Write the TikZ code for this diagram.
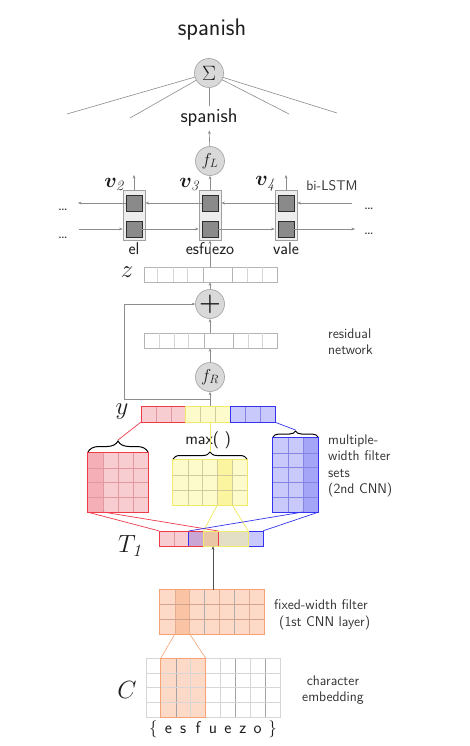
\documentclass[tikz,border=0pt]{standalone}
\usepackage{amsmath,bm}
\usetikzlibrary{arrows.meta,decorations.pathreplacing,calc}
\definecolor{lg}{HTML}{8C8C8C}
\definecolor{cfill}{HTML}{D9D9D9}
\definecolor{cdraw}{HTML}{A0A0A0}
\definecolor{vline}{HTML}{D6D6D6}
\definecolor{vdark}{HTML}{B4B4B4}
\definecolor{boxfill}{HTML}{EDEDED}
\definecolor{boxdraw}{HTML}{A0A0A0}
\definecolor{sqfill}{HTML}{8A8A8A}
\definecolor{sqdraw}{HTML}{2E2E2E}
\definecolor{rS}{HTML}{EE3B4A}
\definecolor{rF}{HTML}{F8CDD2}
\definecolor{rD}{HTML}{F5AFB6}
\definecolor{rL}{HTML}{E2989F}
\definecolor{yS}{HTML}{F2EA6A}
\definecolor{yF}{HTML}{FDFBCB}
\definecolor{yD}{HTML}{FAF59E}
\definecolor{yL}{HTML}{CFCB9C}
\definecolor{bS}{HTML}{3434F0}
\definecolor{bF}{HTML}{C9C9FB}
\definecolor{bD}{HTML}{A5A5F8}
\definecolor{bL}{HTML}{8585E6}
\definecolor{oS}{HTML}{F6A274}
\definecolor{oF}{HTML}{FCDAC7}
\definecolor{oD}{HTML}{F9C3A4}
\definecolor{oL}{HTML}{E5AE90}
\definecolor{pu}{HTML}{C9A6D4}
\definecolor{tan}{HTML}{E9C6A6}
\definecolor{kh}{HTML}{E3DFC6}
\definecolor{txt}{HTML}{1E1E1E}
\definecolor{ltxt}{HTML}{333333}
\definecolor{darr}{HTML}{505050}
\begin{document}
\begin{tikzpicture}[x=1pt,y=-1pt,
  ln/.style={draw=lg,line width=0.6pt},
  arr/.style={ln,-{Stealth[length=3.5pt,width=2.8pt]}},
  circ/.style={circle,draw=cdraw,fill=cfill,line width=0.6pt,minimum size=29pt,inner sep=0pt,text=txt},
  lbl/.style={font=\fontsize{14}{16.3}\selectfont\sffamily,text=ltxt,inner sep=0pt},
  word/.style={font=\fontsize{17}{20}\selectfont\sffamily,text=txt},
  mlab/.style={font=\fontsize{#1}{#1}\selectfont,text=txt,inner sep=0pt},
  vecbox/.style={draw=vdark,line width=0.5pt,minimum width=133pt,minimum height=15pt,inner sep=0pt},
  gl/.style={draw=vline,line width=0.5pt},
  gd/.style={draw=vdark,line width=0.5pt},
  colbox/.style={draw=boxdraw,fill=boxfill,line width=0.7pt,minimum width=22pt,minimum height=50pt,inner sep=0pt},
  sq/.style={draw=sqdraw,fill=sqfill,line width=0.6pt,minimum size=16pt,inner sep=0pt},
  brc/.style={draw=black,line width=1pt,decorate,decoration={brace,amplitude=#1}},
]
\useasboundingbox[fill=white] (0,0) rectangle (470,746);

% ---------- top ----------
\node[word,font=\fontsize{24}{28}\selectfont\sffamily] (top) at (212,30) {spanish};
\node[circ,font=\fontsize{21}{21}\selectfont] (sig) at (209,73) {$\Sigma$};
\coordinate (e1) at (67,114);
\coordinate (e2) at (130,118);
\coordinate (e4) at (289,114);
\coordinate (e5) at (337,113);
\foreach \e in {e1,e2,e4,e5} \draw[ln] (sig) -- (\e);
\node[word,font=\fontsize{20}{24}\selectfont\sffamily] (mid) at (209,118) {spanish};
\draw[ln] (sig) -- (mid);
\node[circ,font=\fontsize{17}{17}\selectfont] (fL) at (210,161) {$f_{L}$};
\draw[arr] (fL) -- (mid);

% ---------- bi-LSTM ----------
\foreach \n/\x in {1/134,2/210,3/286} {
  \node[colbox] (c\n) at (\x,215) {};
  \node[sq] (t\n) at (\x,203) {};
  \node[sq] (b\n) at (\x,229) {};
}
\coordinate (rt) at (352,203);
\coordinate (lt) at (78,203);
\coordinate (lb) at (79,229);
\coordinate (rb) at (355,229);
\draw[arr] (rt) -- (c3.east |- t3);
\draw[arr] (t3) -- (c2.east |- t2);
\draw[arr] (t2) -- (c1.east |- t1);
\draw[arr] (t1) -- (lt);
\draw[arr] (lb) -- (c1.west |- b1);
\draw[arr] (b1) -- (c2.west |- b2);
\draw[arr] (b2) -- (c3.west |- b3);
\draw[arr] (b3) -- (rb);
\coordinate (u1) at (134,175);
\coordinate (u3) at (286,175);
\draw[arr] (c1) -- (u1);
\draw[arr] (c3) -- (u3);
\draw[arr] (c2) -- (fL);
\node[mlab=22] (v2) at (115,184) {$\boldsymbol{v}_{\mathit{2}}$};
\node[mlab=22] (v3) at (190,184) {$\boldsymbol{v}_{\mathit{3}}$};
\node[mlab=22] (v4) at (266,184) {$\boldsymbol{v}_{\mathit{4}}$};
\node[lbl] (bil) at (332,186) {bi-LSTM};
\node[word,anchor=base,inner sep=0pt,text=ltxt] (d1) at (63,210) {\dots};
\node[word,anchor=base,inner sep=0pt,text=ltxt] (d2) at (63,238) {\dots};
\node[word,anchor=base,inner sep=0pt,text=ltxt] (d3) at (369,209) {\dots};
\node[word,anchor=base,inner sep=0pt,text=ltxt] (d4) at (369,234) {\dots};
\node[word] (w1) at (134,249) {el};
\node[word] (w2) at (210,249) {esfuezo};
\node[word] (w3) at (286,249) {vale};

% ---------- z ----------
\node[vecbox] (zv) at (210.5,274.5) {};
\foreach \x in {157,173,187,247,262} \draw[gl] (\x,267) -- (\x,282);
\foreach \x in {203,232} \draw[gd] (\x,267) -- (\x,282);
\node[mlab=24] (zl) at (127,272) {$z$};
\draw[arr] (zv.north -| c2) -- (c2);

% ---------- residual ----------
\node[circ,font=\fontsize{24}{24}\selectfont] (pl) at (210,304) {$\boldsymbol{+}$};
\draw[arr] (pl) -- (zv.south -| pl);
\node[vecbox] (rv) at (210.5,340.5) {};
\foreach \x in {159,174,188,248,262} \draw[gl] (\x,333) -- (\x,348);
\foreach \x in {204,233} \draw[gd] (\x,333) -- (\x,348);
\draw[arr] (rv.north -| pl) -- (pl);
\node[circ,font=\fontsize{17}{17}\selectfont] (fR) at (210,377) {$f_{R}$};
\draw[arr] (fR) -- (rv.south -| fR);
\node[lbl,align=left,anchor=west] (rn) at (328,342) {residual\\network};

% ---------- y ----------
\node[draw=rS,fill=rF,line width=0.7pt,minimum width=44.7pt,minimum height=16pt,inner sep=0pt] (yr) at (163.35,414) {};
\node[draw=yS,fill=yF,line width=0.7pt,minimum width=44.6pt,minimum height=16pt,inner sep=0pt] (yy) at (208,414) {};
\node[draw=bS,fill=bF,line width=0.7pt,minimum width=44.7pt,minimum height=16pt,inner sep=0pt] (yb) at (252.65,414) {};
\foreach \x in {155.9,170.8} \draw[rL,line width=0.4pt] (\x,406.5) -- (\x,421.5);
\foreach \x in {200.6,215.4} \draw[yL,line width=0.4pt] (\x,406.5) -- (\x,421.5);
\foreach \x in {245.2,260.1} \draw[bL,line width=0.4pt] (\x,406.5) -- (\x,421.5);
\node[mlab=26] (yl) at (122,412) {$y$};
\coordinate (sk) at (210,399);
\coordinate (skc) at (124,304);
\draw[arr] (yy.north -| fR) -- (fR);
\draw[arr] (sk) -| (skc) -- (pl);

% ---------- filters ----------
% red
\node[fill=rF,minimum width=60pt,minimum height=59pt,inner sep=0pt] (rf) at (118,482.5) {};
\fill[rD] (88,453) rectangle (103,512);
\foreach \x in {103,118,133} \draw[rL,line width=0.5pt] (\x,453) -- (\x,512);
\foreach \y in {467.75,482.5,497.25} \draw[rL,line width=0.5pt] (88,\y) -- (148,\y);
\draw[rS,line width=0.8pt] (rf.north west) rectangle (rf.south east);
% yellow
\node[fill=yF,minimum width=74pt,minimum height=45pt,inner sep=0pt] (yf) at (210,482.5) {};
\fill[yD] (217.4,460) rectangle (232.2,505);
\foreach \x in {187.8,202.6,217.4,232.2} \draw[yL,line width=0.5pt] (\x,460) -- (\x,505);
\foreach \y in {475,490} \draw[yL,line width=0.5pt] (173,\y) -- (247,\y);
\draw[yS,line width=0.8pt] (yf.north west) rectangle (yf.south east);
% blue
\node[fill=bF,minimum width=45pt,minimum height=74pt,inner sep=0pt] (bf) at (295.5,475) {};
\fill[bD] (303,438) rectangle (318,512);
\foreach \x in {288,303} \draw[bL,line width=0.5pt] (\x,438) -- (\x,512);
\foreach \y in {452.8,467.6,482.4,497.2} \draw[bL,line width=0.5pt] (273,\y) -- (318,\y);
\draw[bS,line width=0.8pt] (bf.north west) rectangle (bf.south east);

% braces
\draw[brc=11pt] (88,452) -- (148,452);
\draw[brc=7pt] (173,459) -- (247,459);
\draw[brc=6pt] (273,437) -- (318,437);
\coordinate (rtip) at (118,440);
\coordinate (ytip) at (210,452);
\coordinate (btip) at (295.5,430);
\node[word] (mx) at (208,440) {max(\ )};
\draw[rS,line width=0.7pt] (yr.south west) -- (rtip);
\draw[yS,line width=0.9pt] (yy.south -| sk) -- (ytip);
\draw[bS,line width=0.7pt] (yb.south east) -- (btip);
\node[lbl,align=left,anchor=west] (mw) at (328,466) {multiple-\\width filter\\sets\\(2nd CNN)};

% ---------- T1 ----------
\node[minimum width=104pt,minimum height=15pt,inner sep=0pt] (T1) at (211,538.5) {};
\draw[rS,line width=0.7pt] (rf.south west) -- (T1.north west);
\draw[rS,line width=0.7pt] (103,512) -- (218.43,531);
\draw[yS,line width=0.8pt] (217.4,505) -- (203.57,531);
\draw[yS,line width=0.8pt] (232.2,505) -- (248.14,531);
\draw[bS,line width=0.7pt] (bf.south east) -- (T1.north east);
\draw[bS,line width=0.7pt] (303,512) -- (188.71,531);
\fill[rF] (159,531) rectangle (188.71,546);
\fill[pu] (188.71,531) rectangle (203.57,546);
\fill[tan] (203.57,531) rectangle (218.43,546);
\fill[kh] (218.43,531) rectangle (248.14,546);
\fill[bF] (248.14,531) rectangle (263,546);
\draw[rL,line width=0.4pt] (173.86,531) -- (173.86,546);
\draw[bS,line width=0.8pt] (188.71,531) rectangle (263,546);
\draw[rS,line width=0.8pt] (159,531) rectangle (218.43,546);
\draw[yS,line width=0.8pt] (203.57,531) rectangle (248.14,546);
\node[mlab=24] (T1l) at (131,546) {$T_{\mathit{1}}$};

% ---------- fixed-width filter ----------
\node[fill=oF,minimum width=104pt,minimum height=44pt,inner sep=0pt] (ff) at (212,612) {};
\fill[oD] (174.86,590) rectangle (189.71,634);
\foreach \x in {174.86,189.71,219.43,249.14} \draw[oL,line width=0.5pt] (\x,590) -- (\x,634);
\foreach \x in {204.57,234.29} \draw[lg!70,line width=0.5pt] (\x,590) -- (\x,634);
\foreach \y in {604.67,619.33} \draw[oL!80!gray,line width=0.5pt] (160,\y) -- (264,\y);
\draw[oS,line width=0.8pt] (ff.north west) rectangle (ff.south east);
\coordinate (ax) at (213,0);
\draw[draw=darr,line width=0.6pt,-{Stealth[length=3.5pt,width=2.8pt]}] (ff.north -| ax) -- (T1.south -| ax);
\node[lbl,anchor=west] (fw1) at (274,605) {fixed-width filter};
\node[lbl,anchor=west] (fw2) at (279,623) {(1st CNN layer)};

% ---------- character embedding ----------
\node[minimum width=134pt,minimum height=59pt,inner sep=0pt] (ce) at (213,687.5) {};
\fill[oF] (160.89,658) rectangle (205.56,717);
\foreach \x in {190.67,220.44,250.22} \draw[gl] (\x,658) -- (\x,717);
\foreach \x in {175.78,235.33,265.11} \draw[gd,draw=lg!80] (\x,658) -- (\x,717);
\foreach \y in {672.75,687.5,702.25} \draw[gl] (146,\y) -- (280,\y);
\draw[gl] (ce.north west) rectangle (ce.south east);
\draw[oS,line width=0.8pt] (160.89,658) rectangle (205.56,717);
\draw[oS,line width=0.6pt] (174.86,634) -- (160.89,658);
\draw[oS,line width=0.6pt] (189.71,634) -- (205.56,658);
\node[mlab=28] (Cl) at (127,690) {$C$};
\node[lbl,align=center] (cel) at (333,690) {character\\embedding};
\node[word,anchor=base] (ch1) at (153.4,733) {\{};
\node[word,anchor=base] (ch2) at (168.3,733) {e};
\node[word,anchor=base] (ch3) at (183.2,733) {s};
\node[word,anchor=base] (ch4) at (198.1,733) {f};
\node[word,anchor=base] (ch5) at (213,733) {u};
\node[word,anchor=base] (ch6) at (227.9,733) {e};
\node[word,anchor=base] (ch7) at (242.8,733) {z};
\node[word,anchor=base] (ch8) at (257.7,733) {o};
\node[word,anchor=base] (ch9) at (272.6,733) {\}};
\end{tikzpicture}
\end{document}
